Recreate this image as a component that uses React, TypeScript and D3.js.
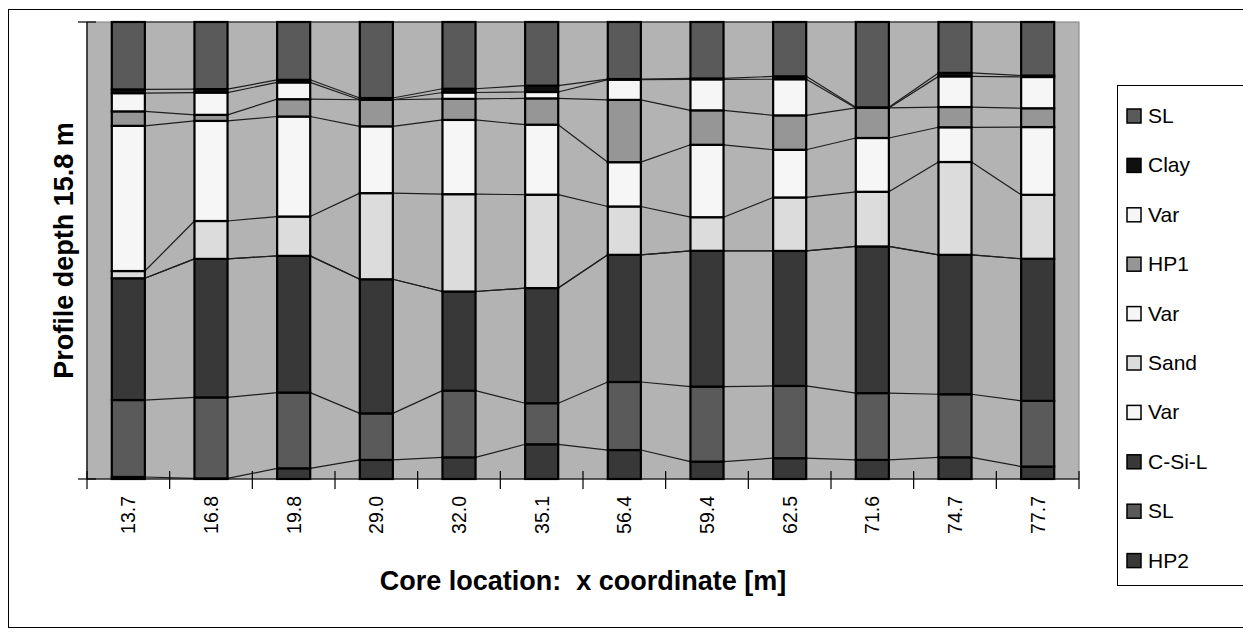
import React from "react";
import * as d3 from "d3";

const categories = ["13.7", "16.8", "19.8", "29.0", "32.0", "35.1", "56.4", "59.4", "62.5", "71.6", "74.7", "77.7"];

// Layer thicknesses [m], stacked bottom (HP2) to top (SL)
const HP2 = [0.07, 0.02, 0.37, 0.66, 0.75, 1.2, 1.0, 0.6, 0.72, 0.66, 0.75, 0.43];
const SL_lower = [2.66, 2.8, 2.62, 1.61, 2.31, 1.42, 2.35, 2.59, 2.5, 2.31, 2.18, 2.27];
const CSiL = [4.21, 4.79, 4.73, 4.64, 3.43, 3.98, 4.39, 4.69, 4.67, 5.07, 4.82, 4.91];
const Var_bottom = [0, 0, 0, 0, 0, 0, 0, 0, 0, 0, 0, 0];
const Sand = [0.25, 1.31, 1.36, 2.98, 3.37, 3.23, 1.67, 1.16, 1.85, 1.89, 3.21, 2.21];
const Var_middle = [5.02, 3.46, 3.46, 2.31, 2.57, 2.42, 1.53, 2.5, 1.65, 1.86, 1.2, 2.34];
const HP1 = [0.5, 0.21, 0.6, 0.92, 0.73, 0.91, 2.15, 1.19, 1.19, 1.04, 0.7, 0.65];
const Var_top = [0.63, 0.77, 0.58, 0.0, 0.22, 0.22, 0.7, 1.07, 1.25, 0.0, 1.06, 1.08];
const Clay = [0.13, 0.12, 0.09, 0.06, 0.13, 0.22, 0.02, 0.03, 0.1, 0.02, 0.12, 0.05];
const SL_upper = [2.33, 2.32, 2.0, 2.63, 2.31, 2.2, 1.97, 1.95, 1.88, 2.95, 1.76, 1.85];
const PROFILE_DEPTH = 15.8;

// stack order from bottom to top
const seriesNames = ["HP2", "SL", "C-Si-L", "Var", "Sand", "Var", "HP1", "Var", "Clay", "SL"];
const seriesColors = ["#383838", "#5a5a5a", "#383838", "#f6f6f6", "#dcdcdc", "#f6f6f6", "#969696", "#f6f6f6", "#101010", "#5a5a5a"];
const seriesData: number[][] = [HP2, SL_lower, CSiL, Var_bottom, Sand, Var_middle, HP1, Var_top, Clay, SL_upper];

export default function App() {
  const W = 1243, H = 635;
  const x0 = 87, x1 = 1079, y0 = 22, y1 = 479;

  const x = d3.scaleBand<string>().domain(categories).range([x0, x1]).paddingInner(0.6).paddingOuter(0.3);
  const band = d3.scaleBand<string>().domain(categories).range([x0, x1]);
  const y = d3.scaleLinear().domain([0, PROFILE_DEPTH]).range([y1, y0]);

  const rows = categories.map((c, i) => {
    const o: any = { cat: c };
    seriesData.forEach((s, k) => (o["s" + k] = s[i]));
    return o;
  });
  const keys = seriesData.map((_, k) => "s" + k);
  const stacked = d3.stack<any>().keys(keys)(rows);
  // normalise the top so every core reaches the full profile depth
  const yTop = (v: number, i: number) => {
    const tot = stacked[stacked.length - 1][i][1];
    return y((v / tot) * PROFILE_DEPTH);
  };

  const bw = x.bandwidth();

  return (
    <svg width={W} height={H} style={{ position: "absolute", left: 0, top: 0 }} fontFamily="'Liberation Sans', Arial, sans-serif">
      <rect x={8.5} y={9.5} width={1250} height={618} fill="#fff" stroke="#000" strokeWidth={1} />
      <rect x={x0} y={y0} width={x1 - x0} height={y1 - y0} fill="#b3b3b3" stroke="#7f7f7f" strokeWidth={1} />

      {/* series lines */}
      {stacked.map((layer, k) =>
        categories.slice(0, -1).map((c, i) => {
          const n = categories[i + 1];
          return (
            <line key={`sl-${k}-${i}`} x1={x(c)! + bw} x2={x(n)!} y1={yTop(layer[i][1], i)} y2={yTop(layer[i + 1][1], i + 1)} stroke="#1e1e1e" strokeWidth={1.2} />
          );
        })
      )}

      {/* bars */}
      {stacked.map((layer, k) =>
        layer.map((d, i) => {
          const h = yTop(d[0], i) - yTop(d[1], i);
          if (h <= 0.01) return null;
          return (
            <rect key={`b-${k}-${i}`} x={x(categories[i])!} y={yTop(d[1], i)} width={bw} height={h} fill={seriesColors[k]} stroke="#000" strokeWidth={2.2} />
          );
        })
      )}

      {/* axes */}
      <line x1={x0} x2={x0} y1={y0} y2={y1} stroke="#000" strokeWidth={1.2} />
      <line x1={x0 - 9} x2={x0 + 9} y1={y0} y2={y0} stroke="#000" strokeWidth={1.2} />
      <line x1={x0 - 9} x2={x0 + 9} y1={y1} y2={y1} stroke="#000" strokeWidth={1.2} />
      <line x1={x0} x2={x1} y1={y1} y2={y1} stroke="#000" strokeWidth={1.2} />
      {d3.range(categories.length + 1).map((i) => {
        const xx = x0 + i * band.bandwidth();
        return <line key={`t${i}`} x1={xx} x2={xx} y1={y1 - 8} y2={y1 + 10} stroke="#000" strokeWidth={1.2} />;
      })}
      {categories.map((c) => {
        const cx = band(c)! + band.bandwidth() / 2;
        return (
          <text key={`l${c}`} transform={`translate(${cx + 7},496) rotate(-90)`} textAnchor="end" fontSize={19.5} fill="#000">
            {c}
          </text>
        );
      })}
      <text x={(x0 + x1) / 2} y={590} textAnchor="middle" fontSize={27} fontWeight="bold">
        {"Core location:\u00a0\u00a0x coordinate [m]"}
      </text>
      <text transform={`translate(73,${(y0 + y1) / 2}) rotate(-90)`} textAnchor="middle" fontSize={27} fontWeight="bold">
        Profile depth 15.8 m
      </text>

      {/* legend */}
      <rect x={1117.5} y={85.5} width={140} height={500} fill="#fff" stroke="#000" strokeWidth={1} />
      {seriesNames
        .map((n, k) => ({ n, k }))
        .reverse()
        .map(({ n, k }, j) => {
          const cy = 116 + j * 49.4;
          return (
            <g key={`lg${j}`}>
              <rect x={1127} y={cy - 7} width={14} height={14} fill={seriesColors[k]} stroke="#000" strokeWidth={1.5} />
              <text x={1148} y={cy + 7} fontSize={21}>
                {n}
              </text>
            </g>
          );
        })}
    </svg>
  );
}
